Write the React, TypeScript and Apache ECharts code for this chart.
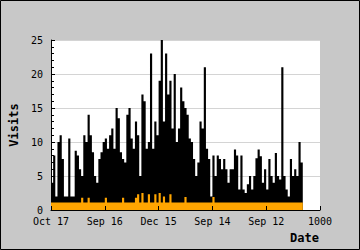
import { useEffect, useRef } from "react";
import * as echarts from "echarts";

// Tick labels of the date axis (days back from the latest day, 0..1000)
const xTickLabels = ["Oct 17", "Sep 16", "Dec 15", "Sep 14", "Sep 12", "1000"];
// Each value covers a bin of this many days
const BIN_DAYS = 8;

// Visits per bin (peak)
const visits = [
  4, 8, 2, 10, 11, 7.5, 2, 2, 10.5, 2, 2, 8.7, 8, 6, 5, 11, 10, 14, 11, 8.5,
  5, 4, 7.5, 8.5, 10, 10.5, 9, 11, 12, 9, 15, 13.5, 8.5, 7.5, 7, 14, 15, 10.5, 9, 13,
  11, 5, 17, 16, 9, 10, 23, 9, 13, 11, 19, 25, 13, 23, 17, 19, 12, 20, 10, 12,
  18, 16, 15, 14, 10.5, 10, 7.5, 5, 7, 13, 12, 21, 9, 7.5, 2, 8, 5, 8, 7.5, 6, 7.5,
  6, 4, 6, 6, 8.9, 8, 3, 8, 3, 2.5, 3.8, 5, 3, 5, 7.6, 8.9, 7.9, 4, 6, 3, 7.5,
  5, 4, 8.4, 5, 4.5, 21, 5, 3, 2, 7.5, 5, 6, 5, 10, 7,
];

// Unique visitors per bin (orange)
const uniqueVisits = [
  1.1, 1.1, 1.1, 1.1, 1.1, 1.1, 1.1, 1.1, 1.1, 1.1, 1.1, 1.1, 1.1, 1.1, 1.8, 1.1, 1.1, 1.8, 1.1, 1.1,
  1.1, 1.1, 1.1, 1.1, 1.1, 1.8, 1.1, 1.1, 1.1, 1.1, 1.1, 1.1, 1.1, 1.8, 1.1, 1.1, 1.1, 1.1, 1.1, 1.8,
  2.3, 1.1, 2.5, 1.1, 1.1, 2.3, 1.1, 1.1, 2.3, 1.1, 2.5, 1.1, 2, 1.1, 1.1, 2.3, 1.1, 1.1, 1.1, 1.1,
  1.1, 1.1, 1.9, 1.1, 1.1, 1.1, 1.1, 1.1, 1.1, 1.1, 1.1, 1.1, 1.1, 1.1, 1.1, 1.9, 1.1, 1.1, 1.1, 1.1, 1.1,
  1.1, 1.1, 1.1, 1.1, 1.1, 1.1, 1.1, 1.1, 1.1, 1.1, 1.1, 1.1, 1.1, 1.1, 1.1, 1.1, 1.1, 1.1, 1.1, 1.1, 1.1,
  1.1, 1.1, 1.1, 1.1, 1.1, 1.1, 1.1, 1.1, 1.1, 1.1, 1.1, 1.1, 1.1, 1.1, 1.1,
];

const FONT = "DejaVu Sans Mono";

// Step outline of binned values: each bin [start, end) holds its value
function stepData(values: number[]): number[][] {
  const pts = values.map((v, i) => [i * BIN_DAYS, v]);
  pts.push([values.length * BIN_DAYS, values[values.length - 1]]);
  return pts;
}

export default function App() {
  const ref = useRef<HTMLDivElement>(null);
  useEffect(() => {
    const chart = echarts.init(ref.current!, null, { renderer: "svg" });
    chart.setOption({
      animation: false,
      backgroundColor: "#c8c8c8",
      textStyle: { fontFamily: FONT },
      graphic: [
        {
          type: "rect",
          silent: true,
          z: 100,
          shape: { x: 0.5, y: 0.5, width: 359, height: 249 },
          style: { fill: "none", stroke: "#000", lineWidth: 1 },
        },
      ],
      grid: {
        left: 40,
        right: 40,
        top: 40,
        bottom: 40,
        show: true,
        backgroundColor: "#fff",
        borderWidth: 0,
      },
      xAxis: {
        type: "value",
        min: 0,
        max: 1000,
        interval: 200,
        z: 10,
        name: "Date",
        nameLocation: "end",
        nameGap: -1,
        nameTextStyle: {
          fontFamily: FONT,
          fontWeight: "bold",
          fontSize: 12,
          color: "#000",
          align: "right",
          verticalAlign: "top",
          padding: [22, 0, 0, 0],
        },
        axisLine: { show: true, onZero: false, lineStyle: { color: "#000", width: 1 } },
        axisTick: { show: true, inside: true, length: 4, lineStyle: { color: "#000" } },
        axisLabel: {
          color: "#000",
          fontSize: 10,
          fontFamily: FONT,
          margin: 6,
          formatter: (v: number) => xTickLabels[Math.round(v / 200)] ?? "",
        },
        splitLine: { show: false },
      },
      yAxis: {
        type: "value",
        min: 0,
        max: 25,
        interval: 5,
        name: "Visits",
        nameLocation: "middle",
        nameGap: 31,
        nameTextStyle: {
          fontFamily: FONT,
          fontWeight: "bold",
          fontSize: 12,
          color: "#000",
        },
        axisLine: { show: true, lineStyle: { color: "#000", width: 1 } },
        axisTick: { show: true, inside: true, length: 4, lineStyle: { color: "#000" } },
        minorTick: { show: true, splitNumber: 5, length: 3, lineStyle: { color: "#000" } },
        axisLabel: { color: "#000", fontSize: 10, fontFamily: FONT, margin: 8 },
        splitLine: { show: true, lineStyle: { color: "#d4d4d4", width: 1 } },
      },
      series: [
        {
          type: "line",
          name: "Visits",
          data: stepData(visits),
          step: "end",
          symbol: "none",
          lineStyle: { width: 0, color: "#000" },
          areaStyle: { color: "#000", opacity: 1 },
        },
        {
          type: "line",
          name: "Unique",
          data: stepData(uniqueVisits),
          step: "end",
          symbol: "none",
          lineStyle: { width: 0, color: "#ffa500" },
          areaStyle: { color: "#ffa500", opacity: 1 },
        },
      ],
    });
    return () => chart.dispose();
  }, []);
  return (
    <div
      ref={ref}
      style={{ position: "fixed", left: 0, top: 0, width: 360, height: 250 }}
    />
  );
}
